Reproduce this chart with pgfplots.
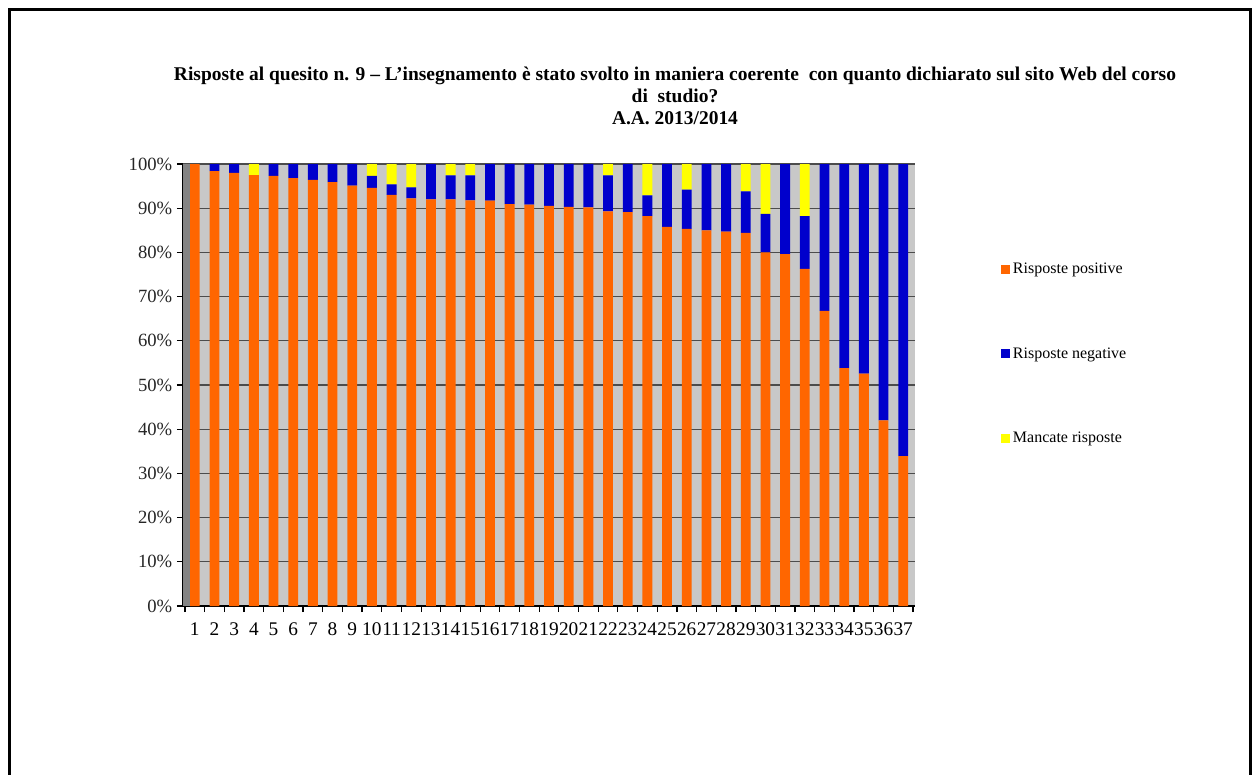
\documentclass[border=0pt]{standalone}
\usepackage{pgfplots}
\pgfplotsset{compat=1.18}
\usepackage{pgfplotstable}
\usepackage{fontspec}
\setmainfont{Liberation Serif}

\definecolor{pos}{HTML}{FF6600}
\definecolor{neg}{HTML}{0000CC}
\definecolor{miss}{HTML}{FFFF00}
\definecolor{wall}{HTML}{C8C8C8}
\definecolor{sidewall}{HTML}{848484}

% risposte in percentuale per insegnamento
\pgfplotstableread{
x  pos   neg   miss
1  100.0 0.0   0.0
2  98.4  1.6   0.0
3  98.0  2.0   0.0
4  97.5  0.0   2.5
5  97.3  2.7   0.0
6  96.8  3.2   0.0
7  96.4  3.6   0.0
8  95.9  4.1   0.0
9  95.1  4.9   0.0
10 94.6  2.7   2.7
11 93.0  2.4   4.6
12 92.2  2.5   5.3
13 92.0  8.0   0.0
14 92.0  5.4   2.6
15 91.8  5.6   2.6
16 91.7  8.3   0.0
17 90.9  9.1   0.0
18 90.8  9.2   0.0
19 90.5  9.5   0.0
20 90.3  9.7   0.0
21 90.2  9.8   0.0
22 89.3  8.1   2.6
23 89.1  10.9  0.0
24 88.2  4.7   7.1
25 85.8  14.2  0.0
26 85.3  8.9   5.8
27 85.0  15.0  0.0
28 84.7  15.3  0.0
29 84.4  9.4   6.2
30 80.0  8.7   11.3
31 79.6  20.4  0.0
32 76.3  11.9  11.8
33 66.8  33.2  0.0
34 53.8  46.2  0.0
35 52.6  47.4  0.0
36 42.0  58.0  0.0
37 33.9  66.1  0.0
}\quesito

\begin{document}
\begin{tikzpicture}
\begin{scope}[x=0.75pt,y=-0.75pt]
  \useasboundingbox (0,0) rectangle (1258,775);
  \draw[line width=2.25pt] (9,790) -- (9,9) -- (1250,9) -- (1250,790);
  \node[font=\bfseries\fontsize{14.6}{16.5}\selectfont, align=center] at (675,96)
    {Risposte al quesito n. 9 -- L’insegnamento è stato svolto in maniera coerente\ \ con quanto dichiarato sul sito Web del corso\\
     di\ \ studio?\\
     A.A. 2013/2014};
\end{scope}

\begin{axis}[
    at={(137.25pt,-454.5pt)}, anchor=south west,
    scale only axis,
    width=549pt, height=331.5pt,
    ybar stacked,
    bar width=0.5,
    xmin=0.4, xmax=37.6,
    ymin=0, ymax=100,
    axis lines*=left,
    axis line style={black, line width=0.9pt},
    axis background/.style={fill=wall},
    xtick={0.5,1.5,...,37.5},
    x tick label as interval,
    xticklabel={\pgfmathparse{int(\tick+0.5)}\pgfmathresult},
    ytick={0,10,...,100},
    yticklabel={\pgfmathparse{int(\tick)}\pgfmathresult\%},
    tick align=outside,
    major tick length=4.5pt,
    tick style={black, line width=0.9pt},
    ymajorgrids,
    major grid style={black!70, line width=0.9pt},
    xticklabel style={font=\fontsize{14.5}{16}\selectfont, yshift=-8pt, inner sep=0pt},
    yticklabel style={font=\fontsize{14}{16}\selectfont, text=black!85},
    /pgf/number format/assume math mode=true,
    legend style={at={(1.112,0.788)}, anchor=north west, draw=none, fill=none,
      font=\fontsize{12}{13}\selectfont, row sep=49.8pt},
    legend cell align=left,
    legend image code/.code={\fill[#1] (0pt,-3.4pt) rectangle (6.8pt,3.4pt);},
  ]
  \fill[sidewall] (rel axis cs:0,0) rectangle ([xshift=5.2pt]rel axis cs:0,1);
  \addplot[fill=pos, draw=none] table[x=x, y=pos] {\quesito};
  \addplot[fill=neg, draw=none] table[x=x, y=neg] {\quesito};
  \addplot[fill=miss, draw=none] table[x=x, y=miss] {\quesito};
  \legend{Risposte positive, Risposte negative, Mancate risposte}
\end{axis}
\end{tikzpicture}
\end{document}
